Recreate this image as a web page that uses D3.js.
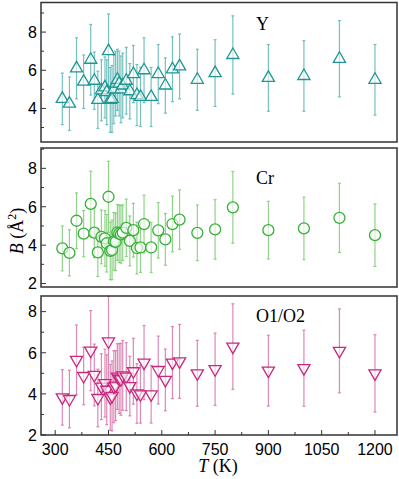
<!DOCTYPE html>
<html>
<head>
<meta charset="utf-8">
<script src="https://cdn.jsdelivr.net/npm/d3@7"></script>
<style>
body { margin: 0; background: #fff; }
svg { display: block; }
</style>
</head>
<body>
<script>
// temperatures (K), shared by the three sites
var temps = [320, 340, 360, 380, 400, 410, 420, 430, 440, 445, 450, 455, 460, 465, 470, 475, 480, 485, 490, 500,
             510, 520, 530, 540, 550, 570, 590, 610, 630, 650, 700, 750, 800, 900, 1000, 1100, 1200];

// B (A^2) and errors
var bY   = [4.5, 4.25, 6.1, 5.4, 6.55, 5.45, 4.45, 4.95, 5.1, 4.85, 7.0, 4.45, 4.5, 5.0, 5.3, 5.5, 5.3, 5.0, 5.2, 5.45,
            4.9, 5.8, 4.7, 4.6, 6.0, 4.6, 5.8, 5.2, 6.05, 6.2, 5.5, 5.85, 6.8, 5.6, 5.7, 6.6, 5.5];
var errY = [1.35, 1.4, 1.6, 1.4, 1.85, 1.5, 1.5, 1.6, 1.6, 1.7, 1.95, 1.7, 1.75, 1.8, 1.7, 1.6, 1.7, 1.75, 1.7, 1.75,
            1.45, 1.5, 1.6, 1.55, 1.7, 1.55, 1.55, 1.45, 1.7, 1.7, 1.6, 1.75, 2.05, 1.75, 1.85, 2.0, 1.85];

var bCr   = [3.83, 3.6, 5.27, 4.6, 6.15, 4.65, 3.62, 4.43, 4.35, 4.1, 6.52, 3.7, 3.75, 4.2, 4.17, 4.66, 4.6, 4.56, 4.65, 4.9,
             4.22, 4.78, 3.85, 3.88, 5.1, 3.88, 4.77, 4.3, 5.1, 5.33, 4.64, 4.82, 5.97, 4.78, 4.87, 5.42, 4.52];
var errCr = [1.17, 1.2, 1.45, 1.2, 1.7, 1.3, 1.25, 1.4, 1.45, 1.5, 1.85, 1.5, 1.55, 1.5, 1.5, 1.45, 1.5, 1.5, 1.45, 1.5,
             1.3, 1.4, 1.35, 1.3, 1.5, 1.3, 1.45, 1.35, 1.45, 1.55, 1.45, 1.55, 1.87, 1.5, 1.63, 1.8, 1.63];

var bO   = [3.83, 3.75, 5.65, 4.87, 6.1, 4.92, 3.8, 4.35, 4.52, 4.2, 6.55, 3.83, 3.9, 4.35, 4.4, 4.84, 4.75, 4.71, 4.9, 4.84,
            4.38, 5.1, 4.02, 3.98, 5.52, 3.98, 5.16, 4.68, 5.52, 5.58, 5.0, 5.2, 6.3, 5.13, 5.25, 6.09, 5.0];
var errO = [1.35, 1.4, 1.7, 1.4, 1.95, 1.5, 1.4, 1.6, 1.65, 1.7, 2.2, 1.6, 1.7, 1.75, 1.7, 1.6, 1.7, 1.75, 1.7, 1.65,
            1.45, 1.6, 1.45, 1.4, 1.8, 1.4, 1.65, 1.5, 1.75, 1.8, 1.6, 1.76, 2.08, 1.72, 1.85, 2.04, 1.88];

var xTicks = [300, 450, 600, 750, 900, 1050, 1200];
var yTicks = [2, 4, 6, 8];

var W = 399, H = 479;
var left = 41, right = 397;

var panels = [
  {name: "Y",     vals: bY,  errs: errY,  top: 2.5, bottom: 142, dom: [2.24, 9.55], marker: "up",
   stroke: "#1f9693", bar: "#5db7b5"},
  {name: "Cr",    vals: bCr, errs: errCr, top: 148, bottom: 287, dom: [1.82, 9.06], marker: "circle",
   stroke: "#38b038", bar: "#7ccc72"},
  {name: "O1/O2", vals: bO,  errs: errO,  top: 296, bottom: 435, dom: [2, 8.76],   marker: "down",
   stroke: "#c8287e", bar: "#d774ab"}
];

var svg = d3.select("body").append("svg")
  .attr("width", W)
  .attr("height", H);

var x = d3.scaleLinear().domain([260, 1262]).range([left, right]);

var tri = d3.symbol().type(d3.symbolTriangle).size(64);

panels.forEach(function(p, pi) {
  var y = d3.scaleLinear().domain(p.dom).range([p.bottom, p.top]);
  var g = svg.append("g");

  var pts = temps.map(function(t, i) { return {t: t, v: p.vals[i], e: p.errs[i]}; });

  // error bars
  var bars = g.append("g")
    .attr("stroke", p.bar)
    .attr("stroke-width", 1.2)
    .attr("stroke-opacity", 0.85);
  bars.selectAll("line.eb")
    .data(pts).enter().append("line")
    .attr("x1", function(d) { return x(d.t); })
    .attr("x2", function(d) { return x(d.t); })
    .attr("y1", function(d) { return y(d.v - d.e); })
    .attr("y2", function(d) { return y(d.v + d.e); });
  [-1, 1].forEach(function(s) {
    bars.selectAll("line.cap" + s)
      .data(pts).enter().append("line")
      .attr("x1", function(d) { return x(d.t) - 1.5; })
      .attr("x2", function(d) { return x(d.t) + 1.5; })
      .attr("y1", function(d) { return y(d.v + s * d.e); })
      .attr("y2", function(d) { return y(d.v + s * d.e); });
  });

  // markers
  var mk = g.append("g")
    .attr("fill", "#fff")
    .attr("fill-opacity", 0.6)
    .attr("stroke", p.stroke)
    .attr("stroke-width", 1.3);
  if (p.marker == "circle") {
    mk.selectAll("circle")
      .data(pts).enter().append("circle")
      .attr("cx", function(d) { return x(d.t); })
      .attr("cy", function(d) { return y(d.v); })
      .attr("r", 5.5);
  } else {
    mk.selectAll("path")
      .data(pts).enter().append("path")
      .attr("d", tri)
      .attr("transform", function(d) {
        return "translate(" + x(d.t) + "," + y(d.v) + ")" + (p.marker == "down" ? "rotate(180)" : "");
      });
  }

  // frame
  g.append("rect")
    .attr("x", left).attr("y", p.top)
    .attr("width", right - left).attr("height", p.bottom - p.top)
    .attr("fill", "none")
    .attr("stroke", "#333")
    .attr("stroke-width", 1.5);

  // y ticks (inward), minor at odd values
  var ax = g.append("g").attr("stroke", "#333").attr("stroke-width", 1);
  d3.range(2, 10).forEach(function(v) {
    if (v < p.dom[0] || v > p.dom[1]) return;
    var major = v % 2 == 0;
    ax.append("line")
      .attr("x1", left).attr("x2", left + (major ? 5 : 3))
      .attr("y1", y(v)).attr("y2", y(v));
  });
  g.selectAll("text.yt")
    .data(yTicks.filter(function(v) { return v >= p.dom[0] && v <= p.dom[1]; }))
    .enter().append("text")
    .attr("x", 37)
    .attr("y", function(v) { return y(v); })
    .attr("dy", "0.36em")
    .attr("text-anchor", "end")
    .attr("font-family", "Liberation Sans, Arial, sans-serif")
    .attr("font-size", 16)
    .text(function(v) { return v; });

  // site label
  g.append("text")
    .attr("x", 256)
    .attr("y", p.top + (pi == 0 ? 27 : (pi == 1 ? 36 : 26)))
    .attr("font-family", "Liberation Serif, Times New Roman, serif")
    .attr("font-size", 18)
    .text(p.name);

  // x ticks on bottom panel only
  if (pi == 2) {
    var xa = g.append("g").attr("stroke", "#333").attr("stroke-width", 1);
    d3.range(300, 1262, 75).forEach(function(t) {
      var major = (t - 300) % 150 == 0;
      xa.append("line")
        .attr("x1", x(t)).attr("x2", x(t))
        .attr("y1", p.bottom).attr("y2", p.bottom - (major ? 5 : 3));
    });
    g.selectAll("text.xt")
      .data(xTicks).enter().append("text")
      .attr("x", function(t) { return x(t); })
      .attr("y", 455)
      .attr("text-anchor", "middle")
      .attr("font-family", "Liberation Sans, Arial, sans-serif")
      .attr("font-size", 16)
      .text(function(t) { return t; });
  }
});

// axis titles
var xt = svg.append("text")
  .attr("x", 218)
  .attr("y", 472)
  .attr("text-anchor", "middle")
  .attr("font-family", "Liberation Serif, Times New Roman, serif")
  .attr("font-size", 18);
xt.append("tspan").attr("font-style", "italic").text("T");
xt.append("tspan").text(" (K)");

var yt = svg.append("text")
  .attr("transform", "translate(23,231) rotate(-90)")
  .attr("text-anchor", "middle")
  .attr("font-family", "Liberation Serif, Times New Roman, serif")
  .attr("font-size", 18);
yt.append("tspan").attr("font-style", "italic").text("B");
yt.append("tspan").text(" (Å");
yt.append("tspan").attr("font-size", 12).attr("dy", -7).text("2");
yt.append("tspan").attr("dy", 7).text(")");
</script>
</body>
</html>
